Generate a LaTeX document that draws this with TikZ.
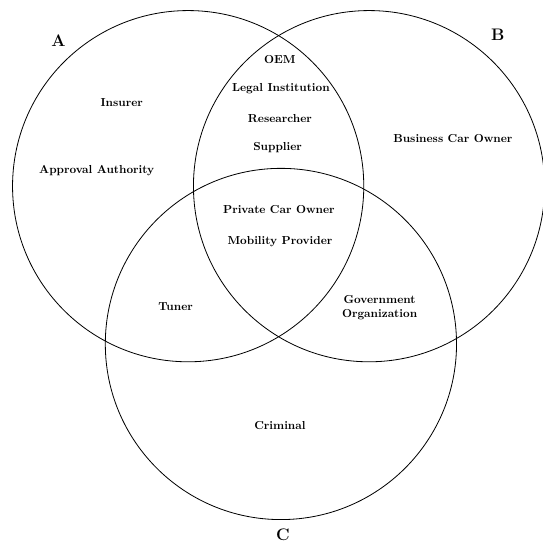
\documentclass[tikz,border=0pt]{standalone}
\usepackage{amsmath}
\usepackage{tikz}
\usetikzlibrary{positioning}

\begin{document}
\begin{tikzpicture}[font=\bfseries,
		set/.style={draw, circle, line width=0.7pt, minimum size=10.64cm, inner sep=0pt},
		setlabel/.style={font=\Large\bfseries},
		actor/.style={align=center}]
		\useasboundingbox (0,0) rectangle (16.42,-16.51);
		% Sets
		\node (setA) [set] at (5.70,-5.64) {};
		\node (setB) [set] at (11.18,-5.64) {};
		\node (setC) [set] at (8.51,-10.42) {};
		% Set labels
		\node (labA) [setlabel] at (1.77,-1.24) {A};
		\node (labB) [setlabel] at (15.08,-1.05) {B};
		\node (labC) [setlabel] at (8.57,-16.20) {C};
		% A and B
		\node (oem) [actor] at (8.48,-1.80) {OEM};
		\node (legal) [actor] at (8.51,-2.69) {Legal Institution};
		\node (research) [actor] at (8.48,-3.59) {Researcher};
		\node (supplier) [actor] at (8.41,-4.47) {Supplier};
		% A only
		\node (insurer) [actor] at (3.69,-3.10) {Insurer};
		\node (approval) [actor] at (2.93,-5.18) {Approval Authority};
		% B only
		\node (business) [actor] at (13.72,-4.19) {Business Car Owner};
		% A, B and C
		\node (private) [actor] at (8.45,-6.35) {Private Car Owner};
		\node (mobility) [actor] at (8.48,-7.33) {Mobility Provider};
		% A and C
		\node (tuner) [actor] at (5.32,-9.29) {Tuner};
		% B and C
		\node (gov) [actor] at (11.50,-9.33) {Government\\Organization};
		% C only
		\node (criminal) [actor] at (8.48,-12.88) {Criminal};
	\end{tikzpicture}
\end{document}
